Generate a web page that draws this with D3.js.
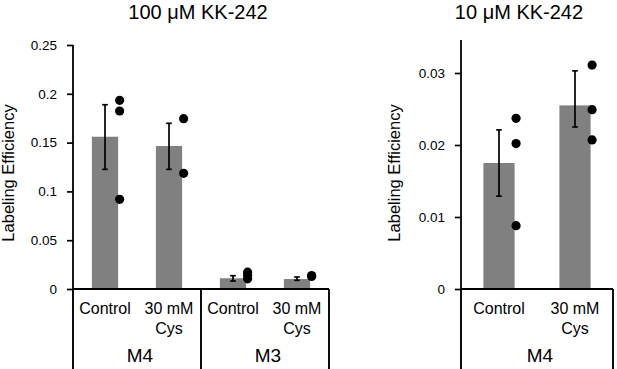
<!DOCTYPE html>
<html>
<head>
<meta charset="utf-8">
<script src="https://cdn.jsdelivr.net/npm/d3@7"></script>
<style>
  html, body { margin: 0; padding: 0; background: #fff; }
  svg { display: block; font-family: "Liberation Sans", Arial, sans-serif; }
</style>
</head>
<body>
<svg id="chart" width="617" height="369"></svg>
<script>
// ---------- Data ----------
// Left panel: 100 µM KK-242
const leftTitle = "100 μM KK-242";
const leftCategories = ["Control", "30 mM|Cys", "Control", "30 mM|Cys"];
const leftGroups = [{ name: "M4", from: 0, to: 2 }, { name: "M3", from: 2, to: 4 }];
const leftMeans = [0.156, 0.1465, 0.011, 0.0102];
const leftErrHi = [0.1888, 0.1698, 0.0136, 0.0123];
const leftErrLo = [0.1226, 0.1226, 0.0082, 0.0089];
const leftPoints = [
  [0.1933, 0.1824, 0.0919],
  [0.1745, 0.1185],
  [0.0172, 0.0138, 0.0104],
  [0.0138, 0.0128]
];
const leftTicks = [0, 0.05, 0.1, 0.15, 0.2, 0.25];
const leftTickLabels = ["0", "0.05", "0.1", "0.15", "0.2", "0.25"];

// Right panel: 10 µM KK-242
const rightTitle = "10 μM KK-242";
const rightCategories = ["Control", "30 mM|Cys"];
const rightGroups = [{ name: "M4", from: 0, to: 2 }];
const rightMeans = [0.0175, 0.0255];
const rightErrHi = [0.0221, 0.0303];
const rightErrLo = [0.0129, 0.0225];
const rightPoints = [
  [0.0237, 0.0202, 0.0088],
  [0.0311, 0.0249, 0.0207]
];
const rightTicks = [0, 0.01, 0.02, 0.03];
const rightTickLabels = ["0", "0.01", "0.02", "0.03"];

const yLabel = "Labeling Efficiency";

// ---------- Drawing ----------
const svg = d3.select("#chart");
const barColor = "#808080";
const FONT = '"Liberation Sans", Arial, sans-serif';

function panel(cfg) {
  const g = svg.append("g");
  const idx = cfg.categories.map((d, i) => i);
  const x = d3.scaleBand().domain(idx).range([cfg.x0, cfg.x1])
    .paddingInner(0.59).paddingOuter(0.295);
  const y = d3.scaleLinear().domain([0, cfg.yMax]).range([cfg.yBase, cfg.yTop]);
  const bw = x.bandwidth();
  const cx = i => x(i) + bw / 2;

  // bars
  g.selectAll("rect.bar").data(cfg.means).join("rect")
    .attr("x", (d, i) => x(i)).attr("width", bw)
    .attr("y", d => y(d)).attr("height", d => y(0) - y(d))
    .attr("fill", barColor);

  // error bars
  const eg = g.selectAll("g.err").data(cfg.means).join("g").attr("class", "err")
    .attr("stroke", "#000").attr("stroke-width", 1.7);
  eg.append("line").attr("x1", (d, i) => cx(i)).attr("x2", (d, i) => cx(i))
    .attr("y1", (d, i) => y(cfg.errHi[i])).attr("y2", (d, i) => y(cfg.errLo[i]));
  eg.append("line").attr("x1", (d, i) => cx(i) - 2.8).attr("x2", (d, i) => cx(i) + 2.8)
    .attr("y1", (d, i) => y(cfg.errHi[i])).attr("y2", (d, i) => y(cfg.errHi[i]));
  eg.append("line").attr("x1", (d, i) => cx(i) - 2.8).attr("x2", (d, i) => cx(i) + 2.8)
    .attr("y1", (d, i) => y(cfg.errLo[i])).attr("y2", (d, i) => y(cfg.errLo[i]));

  // points
  const pts = [];
  cfg.points.forEach((arr, i) => arr.forEach(v => pts.push({ i, v })));
  g.selectAll("circle.pt").data(pts).join("circle")
    .attr("cx", d => cx(d.i) + bw / 2 + 1.5).attr("cy", d => y(d.v))
    .attr("r", 4.6).attr("fill", "#000");

  // y axis
  const yAxis = d3.axisLeft(y).tickValues(cfg.ticks)
    .tickFormat((d, i) => cfg.tickLabels[i]).tickSize(6).tickPadding(10);
  const ya = g.append("g").attr("transform", `translate(${cfg.x0},0)`).call(yAxis);
  ya.select(".domain").attr("stroke", "#000").attr("stroke-width", 1.8)
    .attr("d", `M0,${cfg.yTopLine}V${cfg.yBase}`);
  ya.selectAll(".tick line").attr("stroke", "#000").attr("stroke-width", 1.7);
  ya.selectAll(".tick text").attr("font-family", FONT).attr("font-size", 13.5).attr("fill", "#000");

  // x axis line and separators
  g.append("line").attr("x1", cfg.x0).attr("x2", cfg.x1)
    .attr("y1", cfg.yBase).attr("y2", cfg.yBase)
    .attr("stroke", "#000").attr("stroke-width", 1.9);
  const sepX = [cfg.x0];
  cfg.groups.forEach(gr => sepX.push(cfg.x0 + gr.to * x.step()));
  g.selectAll("line.sep").data(sepX).join("line")
    .attr("x1", d => d).attr("x2", d => d)
    .attr("y1", cfg.yBase).attr("y2", 369)
    .attr("stroke", "#000").attr("stroke-width", 1.9);

  // category labels
  cfg.categories.forEach((c, i) => {
    const lines = c.split("|");
    lines.forEach((ln, k) => {
      g.append("text").attr("x", cx(i)).attr("y", 314 + k * 20)
        .attr("text-anchor", "middle").attr("font-family", FONT)
        .attr("font-size", 16).attr("fill", "#000").text(ln);
    });
  });
  // group labels
  cfg.groups.forEach(gr => {
    const gx = cfg.x0 + (gr.from + gr.to) / 2 * x.step();
    g.append("text").attr("x", gx + 3).attr("y", 362)
      .attr("text-anchor", "middle").attr("font-family", FONT)
      .attr("font-size", 19).attr("fill", "#000").text(gr.name);
  });

  // title
  g.append("text").attr("x", cfg.titleX).attr("y", 18.5)
    .attr("text-anchor", "middle").attr("font-family", FONT)
    .attr("font-size", 20).attr("fill", "#000").text(cfg.title);

  // y label
  g.append("text").attr("transform", `translate(${cfg.yLabelX},173) rotate(-90)`)
    .attr("text-anchor", "middle").attr("font-family", FONT)
    .attr("font-size", 16.5).attr("fill", "#000").text(yLabel);
}

panel({
  title: leftTitle, titleX: 198,
  categories: leftCategories, groups: leftGroups,
  means: leftMeans, errHi: leftErrHi, errLo: leftErrLo, points: leftPoints,
  ticks: leftTicks, tickLabels: leftTickLabels,
  x0: 73, x1: 329, yBase: 289, yTop: 45, yTopLine: 45, yMax: 0.25, yLabelX: 14
});
panel({
  title: rightTitle, titleX: 519,
  categories: rightCategories, groups: rightGroups,
  means: rightMeans, errHi: rightErrHi, errLo: rightErrLo, points: rightPoints,
  ticks: rightTicks, tickLabels: rightTickLabels,
  x0: 461, x1: 613, yBase: 289, yTop: 289 - 0.035 * 7200, yTopLine: 40, yMax: 0.035, yLabelX: 400
});
</script>
</body>
</html>
